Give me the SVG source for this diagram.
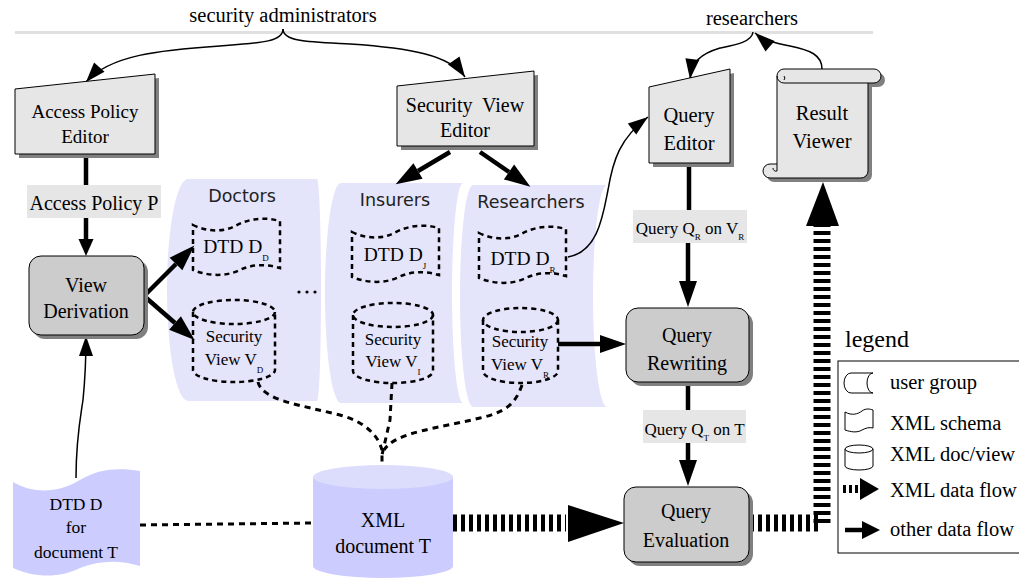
<svg xmlns="http://www.w3.org/2000/svg" width="1019" height="579" viewBox="0 0 1019 579">
<style>
.t{font-family:"Liberation Serif","Times New Roman",serif;font-size:20px;fill:#000;text-anchor:middle}
.s{font-family:"DejaVu Sans",Verdana,sans-serif;font-size:17.5px;fill:#222;text-anchor:middle}
.sub{font-size:9px}
.ed{fill:#e6e6e6;stroke:#000;stroke-width:1}
.pr{fill:#cccccc;stroke:#000;stroke-width:1}
.sh{fill:#808080}
.lab{fill:#e6e6e6}
.grp{fill:#e4e4fa}
.dash{fill:none;stroke:#000;stroke-width:2.5;stroke-dasharray:5 4}
.dot{fill:none;stroke:#000;stroke-width:3;stroke-dasharray:6 5}
.thin{fill:none;stroke:#000;stroke-width:1.5;marker-end:url(#thin)}
.thick{fill:none;stroke:#000;stroke-width:4.5;marker-end:url(#ah)}
.xml{fill:none;stroke:#000;stroke-width:17;stroke-dasharray:4 4}
.lt{font-family:"Liberation Serif","Times New Roman",serif;font-size:20.5px;fill:#000}
</style>
<defs>
<marker id="thin" markerUnits="userSpaceOnUse" markerWidth="20" markerHeight="14" refX="20" refY="7" orient="auto" overflow="visible"><path d="M0,0 L20,7 L0,14 z" fill="#000"/></marker>
<marker id="ah" markerUnits="userSpaceOnUse" markerWidth="26" markerHeight="18" refX="0" refY="9" orient="auto" overflow="visible"><path d="M0,0 L26,9 L0,18 z" fill="#000"/></marker>
<marker id="ahS" markerUnits="userSpaceOnUse" markerWidth="17" markerHeight="15" refX="0" refY="7.5" orient="auto" overflow="visible"><path d="M0,0 L17,7.5 L0,15 z" fill="#000"/></marker>
<path id="dtd" d="M193,225 C205,231 222,233 235,226 C250,218 265,217 280,221 L280,268 C266,264 252,264 240,270 C225,277 208,276 193,270 Z"/>
</defs>

<!-- top bar -->
<rect x="15" y="31" width="858" height="3" fill="#e0e0e0"/>
<text class="t" x="283" y="22" style="font-size:20.5px">security administrators</text>
<text class="t" x="752" y="25" style="font-size:20.5px">researchers</text>

<!-- user groups -->
<g id="group-doctors">
<path class="grp" d="M188,179 L317,179 A4,111 0 0 1 317,401 L188,401 A21,111 0 0 1 188,179 Z"/>
<text class="s" x="242" y="202">Doctors</text>
<circle cx="299" cy="292" r="1.6"/><circle cx="307" cy="292" r="1.6"/><circle cx="315" cy="292" r="1.6"/>
</g>
<g id="group-insurers">
<path class="grp" d="M341,183 L463,183 A11,110 0 0 0 463,403 L341,403 A16,110 0 0 1 341,183 Z"/>
<text class="s" x="395" y="206">Insurers</text>
</g>
<g id="group-researchers">
<path class="grp" d="M473,185 L607,185 A14,111 0 0 0 607,407 L473,407 A13,111 0 0 1 473,185 Z"/>
<text class="s" x="531" y="208">Researchers</text>
</g>

<!-- connectors -->
<g id="connectors">
<path class="thin" d="M283,29 C283,42 260,43 220,46 C160,50 110,55 86,82"/>
<path class="thin" d="M283,29 C283,42 310,42 350,44 C410,48 450,55 465,77"/>
<path class="thin" d="M753,32 C752,42 735,45 720,48 C700,54 692,62 690,79"/>
<path class="thin" d="M822,69 C822,55 810,50 790,46 C775,43 763,40 755,33"/>
<path class="thin" d="M568,257 C598,252 603,215 608,190 C613,160 620,138 648,117"/>
<path class="thin" d="M76,478 C76,440 80,420 83,400 C85,380 86,365 86,336"/>
<line x1="86" y1="158" x2="86" y2="186" stroke="#000" stroke-width="4.5"/>
<line x1="86" y1="218" x2="86" y2="239" stroke="#000" stroke-width="4.5" marker-end="url(#ahS)"/>
<line class="thick" x1="144" y1="296" x2="176" y2="264"/>
<line class="thick" x1="144" y1="296" x2="175" y2="323"/>
<line class="thick" x1="450" y1="152" x2="418" y2="171"/>
<line class="thick" x1="480" y1="152" x2="509" y2="172"/>
<line class="thick" x1="558" y1="344" x2="600" y2="344"/>
<line x1="689" y1="167" x2="689" y2="210" stroke="#000" stroke-width="4.5"/>
<line class="thick" x1="688" y1="243" x2="688" y2="281"/>
<line x1="688" y1="382" x2="688" y2="410" stroke="#000" stroke-width="4.5"/>
<line class="thick" x1="688" y1="443" x2="688" y2="460"/>
<path class="dot" d="M140,525 L313,523"/>
<path class="dot" d="M258,382 C262,400 300,405 340,415 C365,422 378,435 382,450 L382,465"/>
<path class="dot" d="M392,383 L390,420 L382,455"/>
<path class="dot" d="M522,385 C515,405 505,412 480,418 C440,428 395,432 384,450"/>
<path class="xml" d="M453,523 L566,523"/>
<polygon points="568,505 624,523 568,542" fill="#000"/>
<path class="xml" d="M750,523 L822,523 L822,226"/>
<polygon points="806,226 823,182 839,226" fill="#000"/>
</g>

<!-- editors -->
<g id="access-policy-editor">
<polygon class="sh" points="19,93 159,78 159,158 19,158"/>
<polygon class="ed" points="15,89 155,74 155,154 15,154"/>
<text class="t" x="85" y="118" style="font-size:19px">Access Policy</text>
<text class="t" x="85" y="143" style="font-size:19px">Editor</text>
</g>
<g id="access-policy-p">
<rect class="lab" x="27" y="185" width="134" height="33"/>
<text class="t" x="94" y="210">Access Policy P</text>
</g>
<g id="view-derivation">
<rect class="sh" x="33" y="260" width="115" height="79" rx="12"/>
<rect class="pr" x="29" y="256" width="115" height="79" rx="12"/>
<text class="t" x="86" y="292">View</text>
<text class="t" x="86" y="318">Derivation</text>
</g>
<g id="security-view-editor">
<polygon class="sh" points="401,90 538,75 538,150 401,150"/>
<polygon class="ed" points="397,86 534,71 534,146 397,146"/>
<text class="t" x="465" y="112" style="word-spacing:5px">Security View</text>
<text class="t" x="465" y="137">Editor</text>
</g>
<g id="query-editor">
<polygon class="sh" points="653,91 734,73 734,167 653,167"/>
<polygon class="ed" points="649,87 730,69 730,163 649,163"/>
<text class="t" x="689" y="122" style="font-size:20.5px">Query</text>
<text class="t" x="689" y="150" style="font-size:20.5px">Editor</text>
</g>
<g id="result-viewer">
<path class="sh" d="M788,73 L878,73 A7,7 0 0 1 878,87 L872,87 L872,175 A7,7 0 0 1 865,182 L774,182 A7,7 0 0 1 774,168 L781,168 L781,80 A7,7 0 0 1 788,73 Z"/>
<path class="ed" d="M784,69 L874,69 A7,7 0 0 1 874,83 L868,83 L868,171 A7,7 0 0 1 861,178 L770,178 A7,7 0 0 1 770,164 L777,164 L777,76 A7,7 0 0 1 784,69 Z"/>
<path d="M777,76 A7,7 0 0 0 784,83 L868,83 M784,76 A3,3 0 0 1 784,80 M777,164 L777,171 A3,3 0 0 1 773,168" fill="none" stroke="#000" stroke-width="1"/>
<text class="t" x="822" y="120" style="font-size:20.5px">Result</text>
<text class="t" x="822" y="148" style="font-size:20.5px">Viewer</text>
</g>

<!-- schemas and views inside groups -->
<g id="dtd-dd">
<use href="#dtd" class="dash"/>
<text class="t" x="236" y="253" style="font-size:19.5px">DTD D<tspan class="sub" dy="8">D</tspan></text>
</g>
<g id="view-vd">
<ellipse class="dash" cx="234" cy="312" rx="41" ry="12"/>
<path class="dash" d="M193,312 L193,370 A41,12 0 0 0 275,370 L275,312"/>
<text class="t" x="234" y="342" style="font-size:17px">Security</text>
<text class="t" x="234" y="365" style="font-size:17px">View V<tspan class="sub" dy="8">D</tspan></text>
</g>
<g id="dtd-di">
<use href="#dtd" class="dash" transform="translate(159,7)"/>
<text class="t" x="395" y="261" style="font-size:19.5px">DTD D<tspan class="sub" dy="8">J</tspan></text>
</g>
<g id="view-vi">
<ellipse class="dash" cx="393" cy="315" rx="40" ry="12"/>
<path class="dash" d="M353,315 L353,371 A40,12 0 0 0 433,371 L433,315"/>
<text class="t" x="393" y="345" style="font-size:17px">Security</text>
<text class="t" x="393" y="367" style="font-size:17px">View V<tspan class="sub" dy="8">I</tspan></text>
</g>
<g id="dtd-dr">
<use href="#dtd" class="dash" transform="translate(286,8)"/>
<text class="t" x="523" y="265" style="font-size:19.5px">DTD D<tspan class="sub" dy="8">R</tspan></text>
</g>
<g id="view-vr">
<ellipse class="dash" cx="520.5" cy="320" rx="37.5" ry="12"/>
<path class="dash" d="M483,320 L483,371 A37.5,12 0 0 0 558,371 L558,320"/>
<text class="t" x="520" y="347" style="font-size:17px">Security</text>
<text class="t" x="520" y="370" style="font-size:17px">View V<tspan class="sub" dy="8">R</tspan></text>
</g>

<!-- query pipeline -->
<g id="query-qr-label">
<rect class="lab" x="633" y="210" width="114" height="33"/>
<text class="t" x="690" y="234" style="font-size:17px">Query Q<tspan class="sub" dy="6">R</tspan><tspan dy="-6"> on V</tspan><tspan class="sub" dy="6">R</tspan></text>
</g>
<g id="query-rewriting">
<rect class="sh" x="630" y="312" width="123" height="74" rx="12"/>
<rect class="pr" x="626" y="308" width="123" height="74" rx="12"/>
<text class="t" x="687" y="342">Query</text>
<text class="t" x="687" y="370">Rewriting</text>
</g>
<g id="query-qt-label">
<rect class="lab" x="643" y="410" width="103" height="33"/>
<text class="t" x="694.5" y="435" style="font-size:17px">Query Q<tspan class="sub" dy="6">T</tspan><tspan dy="-6"> on T</tspan></text>
</g>
<g id="query-evaluation">
<rect class="sh" x="628" y="491" width="125" height="75" rx="12"/>
<rect class="pr" x="624" y="487" width="125" height="75" rx="12"/>
<text class="t" x="686" y="518">Query</text>
<text class="t" x="686" y="547">Evaluation</text>
</g>

<!-- data sources -->
<g id="dtd-d">
<path fill="#ccccff" d="M13,482 C35,495 60,492 80,480 C100,468 120,468 140,471 L140,566 C120,560 100,560 80,568 C60,578 35,578 13,568 Z"/>
<text class="t" x="76" y="510" style="font-size:17.5px">DTD D</text>
<text class="t" x="76" y="533" style="font-size:17.5px">for</text>
<text class="t" x="76" y="558" style="font-size:17.5px">document T</text>
</g>
<g id="xml-document">
<path fill="#ccccff" d="M313,477 L313,566 A70,12 0 0 0 453,566 L453,477 Z"/>
<ellipse cx="383" cy="477" rx="70" ry="12" fill="#dcdcfd"/>
<text class="t" x="383" y="527">XML</text>
<text class="t" x="383" y="553">document T</text>
</g>

<!-- legend -->
<g id="legend">
<text class="lt" x="845" y="347" style="font-size:24px">legend</text>
<rect x="838" y="361" width="190" height="192" fill="none" stroke="#000" stroke-width="1"/>
<path d="M851,373 L873,373 A6,10 0 0 0 873,393 L851,393 A7,10 0 0 1 851,373 Z" fill="none" stroke="#000" stroke-width="1"/>
<text class="lt" x="890" y="389">user group</text>
<path d="M845,412 C852,416 858,414 862,411 C866,408 870,409 873,410 L873,428 C869,427 866,428 862,430 C857,433 851,432 845,430 Z" fill="none" stroke="#000" stroke-width="1"/>
<text class="lt" x="890" y="430">XML schema</text>
<ellipse cx="859" cy="449" rx="14" ry="4" fill="none" stroke="#000" stroke-width="1"/>
<path d="M845,449 L845,466 A14,4 0 0 0 873,466 L873,449" fill="none" stroke="#000" stroke-width="1"/>
<text class="lt" x="890" y="461">XML doc/view</text>
<path d="M843,489 L858,489" stroke="#000" stroke-width="8" stroke-dasharray="3 3"/>
<polygon points="860,478 879,489 860,500" fill="#000"/>
<text class="lt" x="890" y="497">XML data flow</text>
<line x1="845" y1="530" x2="864" y2="530" stroke="#000" stroke-width="4.5"/>
<polygon points="862,521 880,530 862,539" fill="#000"/>
<text class="lt" x="890" y="536">other data flow</text>
</g>
</svg>
